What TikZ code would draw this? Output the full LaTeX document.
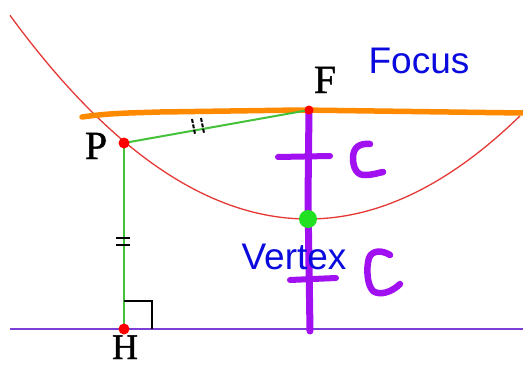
\documentclass[tikz,border=0pt]{standalone}
\usepackage{fontspec}
\setmainfont{Liberation Serif}
\newfontfamily\lblserif[FakeBold=1.2]{Liberation Serif}
\newfontfamily\lblsans{Liberation Sans}
\definecolor{parred}{HTML}{E53935}
\definecolor{orng}{HTML}{FF8A00}
\definecolor{purp}{HTML}{A010F0}
\definecolor{dirpurp}{HTML}{7B3FD6}
\definecolor{grn}{HTML}{44C23A}
\definecolor{vgrn}{HTML}{22E022}
\definecolor{blu}{HTML}{0A0ADF}
\begin{document}
\begin{tikzpicture}[x=1pt,y=-1pt,
  ptlabel/.style={anchor=base,inner sep=0pt,font=\lblserif\fontsize{40}{40}\selectfont},
  bluelabel/.style={anchor=base,inner sep=0pt,text=blu,font=\lblsans\fontsize{37}{37}\selectfont},
  hand/.style={purp,line width=7pt,line cap=round,line join=round},
  seg/.style={grn,line width=2pt},
  tick/.style={black,line width=1.6pt},
  reddot/.style={fill=red,draw=none}]
\useasboundingbox[fill=white] (0,0) rectangle (523,367);
% coordinates
\coordinate (P) at (124,143);
\coordinate (F) at (309,110);
\coordinate (V) at (308,219);
\coordinate (H) at (124,329);
\coordinate (Dl) at (10,329);
\coordinate (Dr) at (523,329);
\coordinate (At) at (309,110);
\coordinate (Ab) at (310,331);
% parabola
\draw[parred,line width=1.3pt,domain=10:520,samples=120] plot (\x,{219-((\x-308)/10)^2/4.36});
% orange latus line
\draw[orng,line width=5.5pt,line cap=round] (82,117) .. controls (110,113) and (130,113) .. (160,112) -- (300,110) -- (523,113);
% directrix
\draw[dirpurp,line width=2pt] (Dl) -- (Dr);
% green segments
\draw[seg] (P) -- (F);
\draw[seg] (P) -- (H);
% tick marks
\draw[tick,line width=2pt,dash pattern=on 4pt off 1.5pt] (192,119) -- (195,134);
\draw[tick,line width=2pt,dash pattern=on 4pt off 1.5pt] (201,118) -- (204,133);
\draw[tick] (116,238) -- (130,238);
\draw[tick] (116,245) -- (130,245);
% right angle
\draw[black,line width=1.5pt] (124,301) -- (152,301) -- (152,329);
% axis (thick purple)
\draw[hand] (At) -- (308,200) -- (Ab);
% crosses
\draw[hand,line width=6pt] (278,157) -- (330,156);
\draw[hand,line width=6pt] (290,280) -- (336,278);
% handwritten C's
\draw[hand,line width=6.5pt] (370,144) .. controls (360,143) and (353,147) .. (353,158) .. controls (353,168) and (357,176) .. (366,175) .. controls (372,175) and (378,173) .. (383,172);
\draw[hand,line width=6.5pt] (390,255) .. controls (382,250) and (372,250) .. (369,258) .. controls (366,268) and (367,285) .. (373,291) .. controls (380,296) and (392,292) .. (400,284);
% dots
\fill[reddot] (F) circle (4.5);
\fill[reddot] (P) circle (5.5);
\fill[reddot] (H) circle (5.5);
\fill[vgrn] (V) circle (9);
% labels
\node[ptlabel] (Pl) at (96,159) {P};
\node[ptlabel] (Fl) at (325,93) {F};
\node[ptlabel,font=\lblserif\fontsize{36}{36}\selectfont] (Hl) at (125,359) {H};
\node[bluelabel] (Fo) at (419,73) {Focus};
\node[bluelabel] (Ve) at (294,269) {Vertex};
\end{tikzpicture}
\end{document}
